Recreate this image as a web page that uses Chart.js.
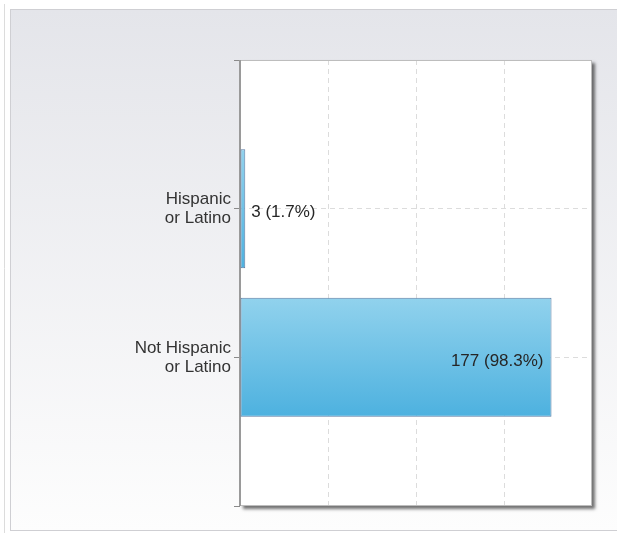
<!DOCTYPE html>
<html>
<head>
<meta charset="utf-8">
<script src="https://cdn.jsdelivr.net/npm/chart.js"></script>
<title>Ethnicity</title>
<style>
  body { margin: 0; background: #fff; }
</style>
</head>
<body>
<canvas id="ethChart" width="617" height="533"></canvas>
<script>
const categories = [['Hispanic', 'or Latino'], ['Not Hispanic', 'or Latino']];
const counts = [3, 177];
const xTicks = [0, 50, 100, 150, 200];

const total = counts.reduce((a, b) => a + b, 0);
// blank slots above and below so the bars sit at 1/3 and 2/3 of the plot height
const labels = [''].concat(categories, ['']);
const values = [null].concat(counts, [null]);

const FONT = '"Liberation Sans", Arial, sans-serif';

const panelPlugin = {
    id: 'panel',
    beforeDraw(chart) {
        const ctx = chart.ctx;
        const a = chart.chartArea;
        ctx.save();
        ctx.fillStyle = '#fff';
        ctx.fillRect(0, 0, chart.width, chart.height);
        // outer grey panel
        const g = ctx.createLinearGradient(0, 10, 0, 531);
        g.addColorStop(0, '#e4e5ea');
        g.addColorStop(1, '#fdfdfd');
        ctx.fillStyle = g;
        ctx.fillRect(10, 10, chart.width - 10, 521);
        ctx.strokeStyle = '#cfcfd3';
        ctx.lineWidth = 1;
        ctx.strokeRect(10.5, 9.5, chart.width, 521);
        ctx.beginPath();
        ctx.moveTo(4.5, 4);
        ctx.lineTo(4.5, 533);
        ctx.strokeStyle = '#dcdcdc';
        ctx.stroke();
        // plot area with drop shadow
        ctx.shadowColor = 'rgba(0,0,0,0.55)';
        ctx.shadowOffsetX = 3;
        ctx.shadowOffsetY = 3;
        ctx.shadowBlur = 3;
        ctx.fillStyle = '#fff';
        ctx.fillRect(a.left, a.top, a.right - a.left, a.bottom - a.top);
        ctx.restore();
    },
    beforeDatasetsDraw(chart) {
        const ctx = chart.ctx;
        const a = chart.chartArea;
        ctx.save();
        ctx.strokeStyle = '#bdbdbd';
        ctx.lineWidth = 1;
        ctx.strokeRect(a.left + 0.5, a.top + 0.5, a.right - a.left - 1, a.bottom - a.top - 1);
        ctx.strokeStyle = '#9a9a9a';
        ctx.lineWidth = 2;
        ctx.beginPath();
        ctx.moveTo(a.left, a.top);
        ctx.lineTo(a.left, a.bottom);
        ctx.stroke();
        ctx.restore();
    }
};

const valueLabels = {
    id: 'valueLabels',
    afterDatasetsDraw(chart) {
        const ctx = chart.ctx;
        const meta = chart.getDatasetMeta(0);
        ctx.save();
        ctx.font = '17px ' + FONT;
        ctx.fillStyle = '#262626';
        ctx.textBaseline = 'middle';
        meta.data.forEach((bar, i) => {
            const v = values[i];
            if (v == null) return;
            const text = v + ' (' + (v / total * 100).toFixed(1) + '%)';
            const w = ctx.measureText(text).width;
            if (bar.x - bar.base > w + 16) {
                ctx.textAlign = 'right';
                ctx.fillText(text, bar.x - 8, bar.y + 4);
            } else {
                ctx.textAlign = 'left';
                ctx.fillText(text, bar.x + 6, bar.y + 4);
            }
        });
        ctx.restore();
    }
};

function barFill(c) {
    const chart = c.chart;
    const y = chart.scales.y;
    if (!y || !chart.chartArea) return '#6cc0e6';
    const center = y.getPixelForValue(c.dataIndex);
    const half = (y.getPixelForValue(1) - y.getPixelForValue(0)) * 0.4;
    const g = chart.ctx.createLinearGradient(0, center - half, 0, center + half);
    g.addColorStop(0, '#91d2ed');
    g.addColorStop(1, '#4db1df');
    return g;
}

new Chart(document.getElementById('ethChart'), {
    type: 'bar',
    data: {
        labels: labels,
        datasets: [{
            data: values,
            backgroundColor: barFill,
            borderColor: '#5a7ba3',
            borderWidth: 1,
            borderSkipped: false,
            categoryPercentage: 0.8,
            barPercentage: 1.0
        }]
    },
    options: {
        indexAxis: 'y',
        responsive: false,
        animation: false,
        layout: { padding: { top: 60, right: 25, left: 0, bottom: 0 } },
        plugins: {
            legend: { display: false },
            tooltip: { enabled: false }
        },
        scales: {
            x: {
                min: xTicks[0],
                max: xTicks[xTicks.length - 1],
                afterBuildTicks: s => { s.ticks = xTicks.map(v => ({ value: v })); },
                ticks: { display: false },
                grid: {
                    drawTicks: false,
                    color: c => (c.tick && c.tick.value > xTicks[0] && c.tick.value < xTicks[xTicks.length - 1]) ? '#dcdcdc' : 'rgba(0,0,0,0)'
                },
                border: { display: false, dash: [5, 4] },
                afterFit: s => { s.height = 27; }
            },
            y: {
                offset: false,
                ticks: {
                    color: '#333',
                    font: { family: FONT, size: 17, lineHeight: 1.12 },
                    padding: 3,
                    autoSkip: false
                },
                grid: {
                    offset: false,
                    color: c => (c.index > 0 && c.index < labels.length - 1) ? '#dcdcdc' : 'rgba(0,0,0,0)',
                    tickColor: '#8a8a8a',
                    tickLength: 6,
                    tickBorderDash: []
                },
                border: { display: false, dash: [5, 4] },
                afterFit: s => { s.width = 240; }
            }
        }
    },
    plugins: [panelPlugin, valueLabels]
});
</script>
</body>
</html>
